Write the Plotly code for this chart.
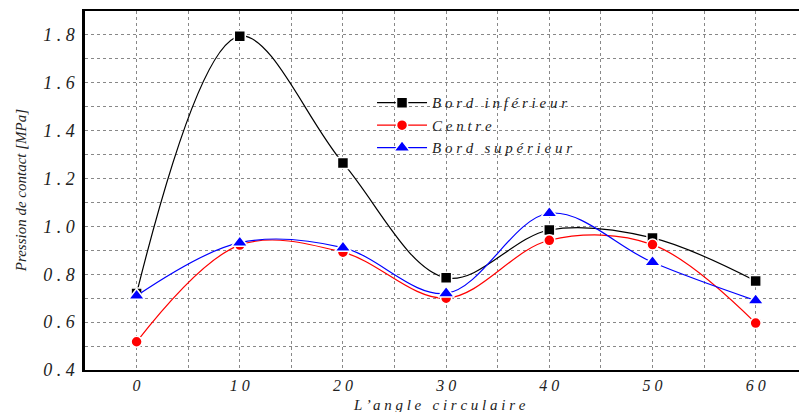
import plotly.graph_objects as go

# angles (x) and contact pressure [MPa]
angle = [0, 10, 20, 30, 40, 50, 60]
bord_inf = [0.72, 1.795, 1.265, 0.785, 0.985, 0.952, 0.772]
centre = [0.518, 0.922, 0.892, 0.700, 0.942, 0.924, 0.596]
bord_sup = [0.710, 0.932, 0.911, 0.720, 1.055, 0.850, 0.690]

x_ticks = [-5, 0, 5, 10, 15, 20, 25, 30, 35, 40, 45, 50, 55, 60]
x_labels = ["", "0", "", "1 0", "", "2 0", "", "3 0", "", "4 0", "", "5 0", "", "6 0"]
y_ticks = [0.4, 0.5, 0.6, 0.7, 0.8, 0.9, 1.0, 1.1, 1.2, 1.3, 1.4, 1.5, 1.6, 1.7, 1.8]
y_labels = ["0 . 4", "", "0 . 6", "", "0 . 8", "", "1 . 0", "", "1 . 2", "", "1 . 4", "", "1 . 6", "", "1 . 8"]

serif = "Liberation Serif, Times New Roman, serif"

fig = go.Figure()

def add_series(y, name, color, symbol, size):
    fig.add_trace(go.Scatter(
        x=angle, y=y, name=name,
        mode='lines+markers',
        line=dict(color=color, width=1.2, shape='spline', smoothing=1),
        marker=dict(color=color, symbol=symbol, size=size,
                    line=dict(color='white', width=1.5))
    ))

add_series(bord_inf, "B o r d   i n f é r i e u r", 'black', 'square', 11)
add_series(centre, "C e n t r e", 'red', 'circle', 11)
add_series(bord_sup, "B o r d   s u p é r i e u r", 'blue', 'triangle-up', 14)

fig.update_layout(
    width=799, height=412,
    margin=dict(l=85, r=0, t=11, b=42),
    plot_bgcolor='white', paper_bgcolor='white',
    font=dict(family=serif, size=15, color='#222'),
    legend=dict(x=0.402, y=0.79, xanchor='left', yanchor='top',
                bgcolor='rgba(0,0,0,0)', tracegroupgap=0,
                font=dict(family=serif, size=15, style='italic', color='#222'),
                itemwidth=50),
    annotations=[
        dict(text="L ’ a n g l e   c i r c u l a i r e", xref='paper', yref='paper',
             x=0.497, y=-0.097, xanchor='center', yanchor='middle', showarrow=False,
             font=dict(family=serif, size=15, style='italic', color='#222')),
        dict(text="Pression de contact [MPa]", xref='paper', yref='paper',
             x=-0.09, y=0.5, xanchor='center', yanchor='middle', showarrow=False,
             textangle=-90,
             font=dict(family=serif, size=15, style='italic', color='#222')),
    ],
)

fig.update_xaxes(
    range=[-5, 64.2], tickvals=x_ticks, ticktext=x_labels,
    showgrid=True, gridcolor='#888', griddash='dot', gridwidth=1,
    showline=True, linecolor='black', linewidth=2, mirror=True,
    ticks='', zeroline=False, automargin=False, ticklabelstandoff=0,
    tickfont=dict(family=serif, size=16, style='italic', color='#222'),
)
fig.update_yaxes(
    range=[0.4, 1.9], tickvals=y_ticks, ticktext=y_labels,
    showgrid=True, gridcolor='#888', griddash='dot', gridwidth=1,
    showline=True, linecolor='black', linewidth=2.5,
    ticks='', zeroline=False, automargin=False, ticklabelstandoff=4,
    tickfont=dict(family=serif, size=18, style='italic', color='#222'),
)

# page body has a default 8px margin, drop it so the figure fills the window
fig.write_html("out.html", config={'displayModeBar': False},
               post_script="document.body.style.margin='0';")
